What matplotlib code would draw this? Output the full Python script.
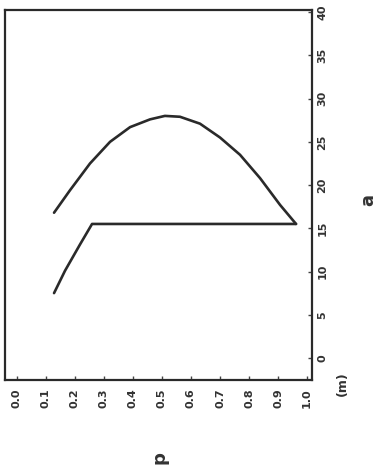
import numpy as np
import matplotlib.pyplot as plt

# upper branch
p_upper = [0.128, 0.183, 0.252, 0.321, 0.390, 0.459, 0.510, 0.562, 0.631, 0.700, 0.769, 0.838, 0.907, 0.962]
a_upper = [16.8, 19.4, 22.5, 25.0, 26.7, 27.6, 28.0, 27.9, 27.1, 25.5, 23.5, 20.8, 17.7, 15.5]

# lower branch (rises then stays flat)
p_lower = [0.128, 0.166, 0.217, 0.259, 0.962]
a_lower = [7.5, 10.1, 13.1, 15.5, 15.5]

x_ticks = [0.0, 0.1, 0.2, 0.3, 0.4, 0.5, 0.6, 0.7, 0.8, 0.9, 1.0]
y_ticks = [0, 5, 10, 15, 20, 25, 30, 35, 40]

fig = plt.figure(figsize=(3.9, 4.72), dpi=100)
ax = fig.add_axes([5 / 390, 92 / 472, 307 / 390, 370 / 472])

ax.plot(p_upper, a_upper, color="#2a2a2a", lw=1.9, solid_capstyle="round")
ax.plot(p_lower, a_lower, color="#2a2a2a", lw=1.9, solid_capstyle="round")

ax.set_xlim(-0.041, 1.017)
ax.set_ylim(-2.55, 40.25)

ax.set_xticks(x_ticks)
ax.set_xticklabels([f"{v:.1f}" for v in x_ticks], rotation=90,
                   fontsize=8, fontweight="bold", color="#333333")
ax.set_yticks(y_ticks)
ax.set_yticklabels([str(v) for v in y_ticks], rotation=90, va="center",
                   fontsize=8, fontweight="bold", color="#333333")

ax.yaxis.tick_right()
ax.tick_params(axis="both", direction="in", length=3, width=1, color="#444444")
ax.tick_params(axis="x", pad=6)
ax.tick_params(axis="y", pad=4)

for s in ax.spines.values():
    s.set_linewidth(1.6)
    s.set_color("#2a2a2a")

fig.text(160 / 390, 1 - 458 / 472, "p", rotation=90, ha="center", va="center",
         fontsize=13, fontweight="bold", color="#333333")
fig.text(368 / 390, 1 - 200 / 472, "a", rotation=90, ha="center", va="center",
         fontsize=13, fontweight="bold", color="#333333")
fig.text(342 / 390, 1 - 384 / 472, "(m)", rotation=90, ha="center", va="center",
         fontsize=9, fontweight="bold", color="#333333")

fig.savefig("out.png", dpi=100)
